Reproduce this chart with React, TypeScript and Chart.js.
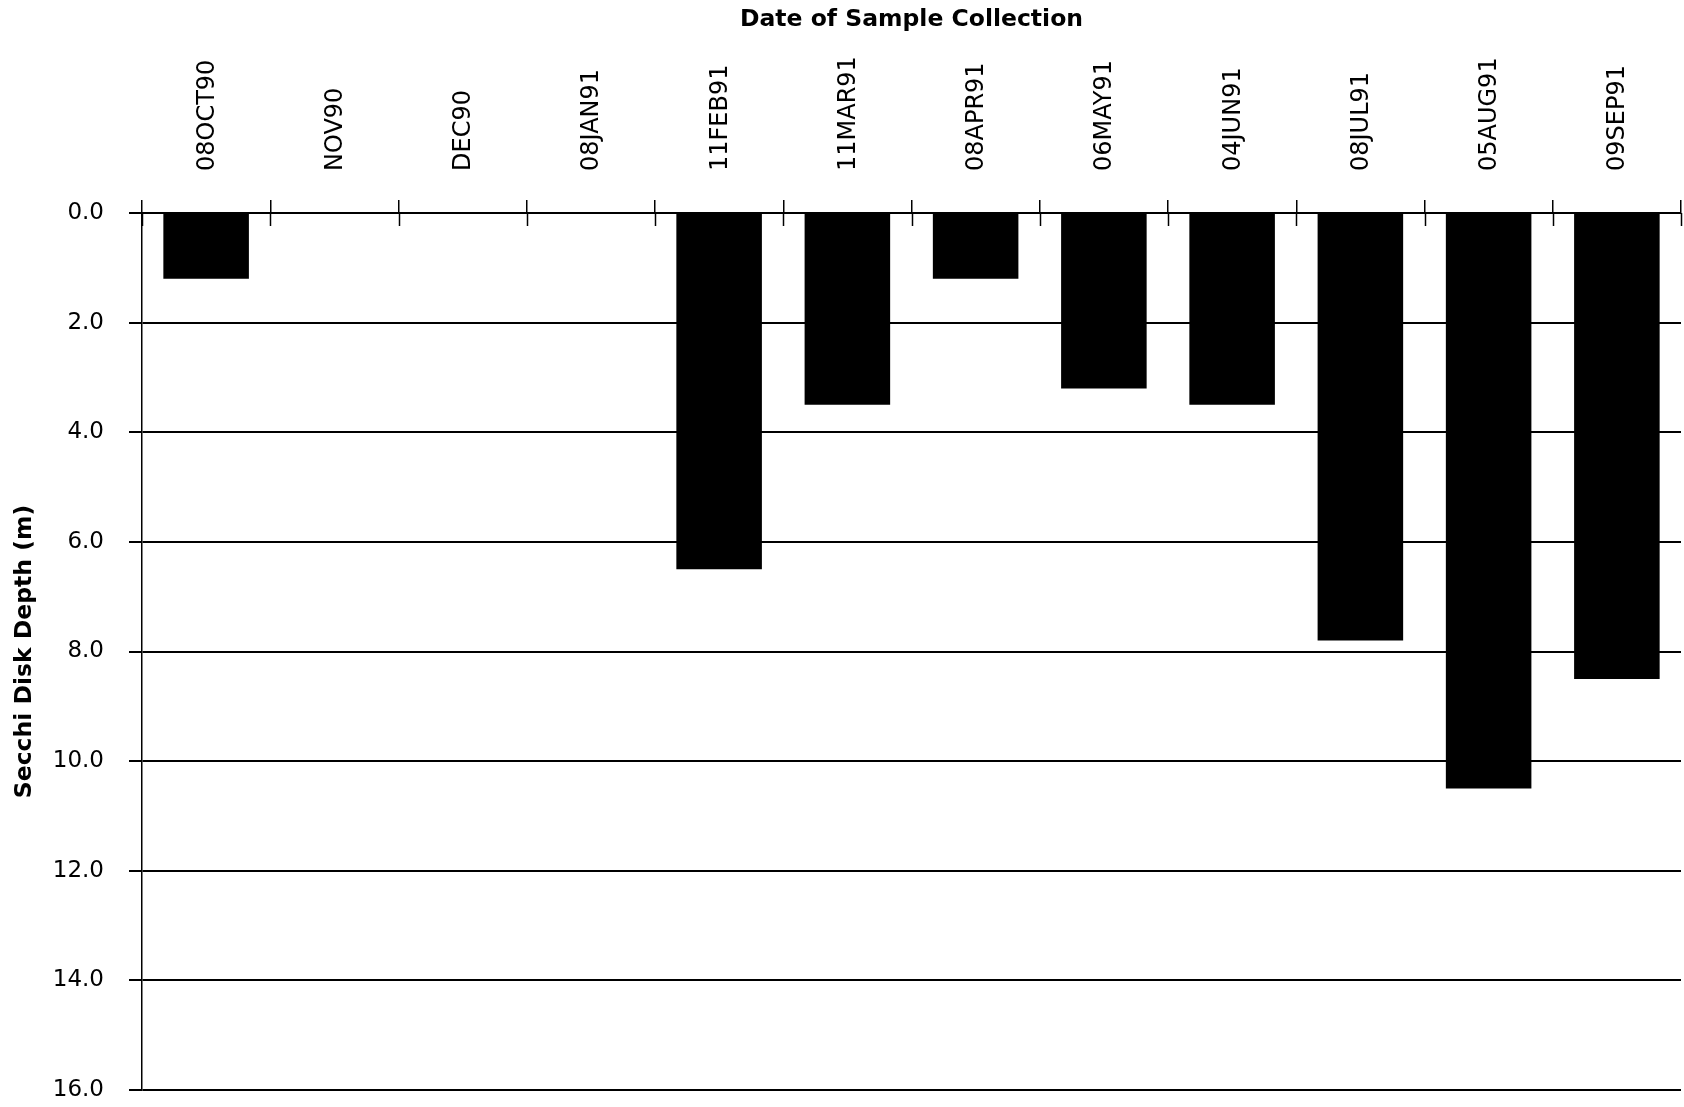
import React, { useEffect, useRef } from "react";
import { Chart, registerables } from "chart.js";

Chart.register(...registerables);

const categories = [
  "08OCT90",
  "NOV90",
  "DEC90",
  "08JAN91",
  "11FEB91",
  "11MAR91",
  "08APR91",
  "06MAY91",
  "04JUN91",
  "08JUL91",
  "05AUG91",
  "09SEP91",
];
const secchiDepth: (number | null)[] = [1.2, null, null, null, 6.5, 3.5, 1.2, 3.2, 3.5, 7.8, 10.5, 8.5];
const yTickValues = [0, 2, 4, 6, 8, 10, 12, 14, 16];
const xTitle = "Date of Sample Collection";
const yTitle = "Secchi Disk Depth (m)";

const FONT = "'DejaVu Sans', 'Liberation Sans', sans-serif";

const underTicks = {
  id: "underTicks",
  afterDraw(chart: any) {
    const x = chart.scales.x;
    const { ctx } = chart;
    const n = categories.length;
    const step = (x.right - x.left) / n;
    ctx.save();
    ctx.strokeStyle = "#000";
    ctx.lineWidth = 1.5;
    for (let i = 0; i <= n; i++) {
      const px = Math.round(x.left + i * step) + 0.5;
      ctx.beginPath();
      ctx.moveTo(px, x.bottom);
      ctx.lineTo(px, x.bottom + 13);
      ctx.stroke();
    }
    ctx.restore();
  },
};

export default function App() {
  const ref = useRef<HTMLCanvasElement | null>(null);
  useEffect(() => {
    if (!ref.current) return;
    const chart = new Chart(ref.current, {
      type: "bar",
      data: {
        labels: categories,
        datasets: [
          {
            data: secchiDepth as any,
            backgroundColor: "#000",
            borderWidth: 0,
            barPercentage: 0.667,
            categoryPercentage: 1,
          },
        ],
      },
      options: {
        animation: false,
        responsive: false,
        devicePixelRatio: 1,
        layout: { padding: { top: 0, left: 0, right: 3, bottom: 17 } },
        plugins: { legend: { display: false }, tooltip: { enabled: false } },
        scales: {
          x: {
            type: "category",
            position: "top",
            offset: true,
            grid: {
              offset: true,
              drawOnChartArea: false,
              drawTicks: true,
              tickLength: 13,
              color: "#000",
              lineWidth: 1.5,
            },
            border: { display: true, color: "#000", width: 2 },
            ticks: {
              minRotation: 90,
              maxRotation: 90,
              autoSkip: false,
              color: "#000",
              padding: 29,
              labelOffset: 30,
              font: { family: FONT, size: 24 },
            },
            title: {
              display: true,
              text: xTitle,
              color: "#000",
              font: { family: FONT, size: 23.5, weight: "bold" },
              padding: { top: 6, bottom: 0 },
            },
            afterFit(scale: any) {
              scale.height = 213;
            },
          },
          y: {
            type: "linear",
            reverse: true,
            min: 0,
            max: 16,
            afterBuildTicks(scale: any) {
              scale.ticks = yTickValues.map((v) => ({ value: v }));
            },
            grid: {
              color: "#000",
              lineWidth: 2,
              drawTicks: true,
              tickLength: 13,
            },
            border: { display: true, color: "#000", width: 1.5 },
            ticks: {
              color: "#000",
              padding: 25,
              font: { family: FONT, size: 23 },
              callback: (v: any) => Number(v).toFixed(1),
            },
            title: {
              display: true,
              text: yTitle,
              color: "#000",
              font: { family: FONT, size: 23.5, weight: "bold" },
              padding: { top: 11, bottom: 0 },
            },
            afterFit(scale: any) {
              scale.width = 142;
              scale.paddingTop = 0;
              scale.paddingBottom = 0;
            },
          },
        },
      },
      plugins: [underTicks],
    });
    return () => chart.destroy();
  }, []);
  return (
    <div style={{ position: "fixed", left: 0, top: 0, width: 1684, height: 1107, background: "#fff" }}>
      <canvas ref={ref} width={1684} height={1107} style={{ display: "block" }} />
    </div>
  );
}
